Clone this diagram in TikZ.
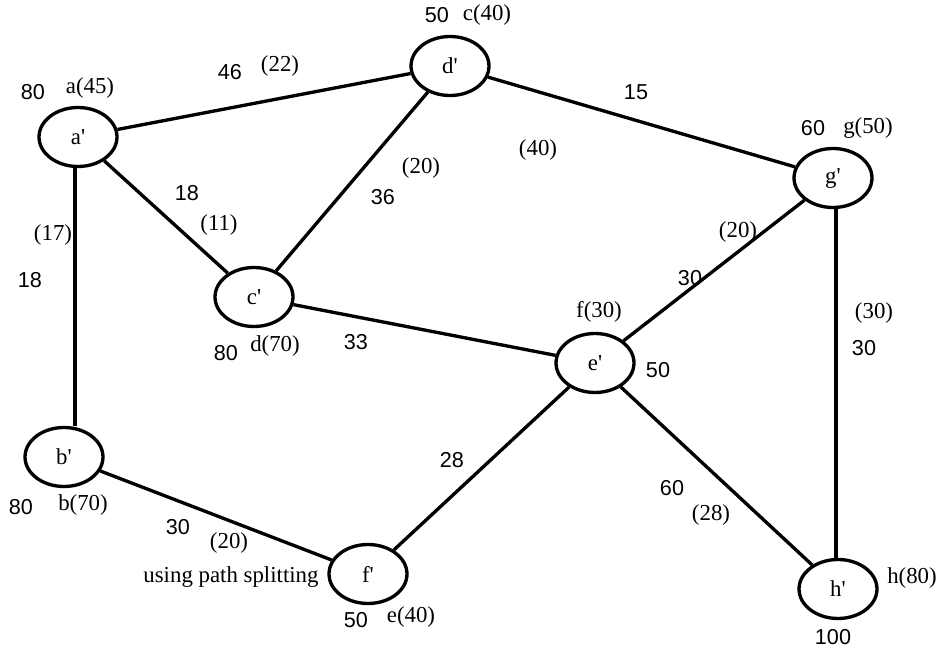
\documentclass[tikz,border=0pt]{standalone}
\usepackage{fontspec}
\setmainfont{Liberation Serif}
\newfontfamily\numfont{Liberation Sans}
\usetikzlibrary{shapes.geometric}
\newcommand{\apos}{\textquotesingle}

\begin{document}
\begin{tikzpicture}[
    x=0.02cm, y=-0.02cm,
    font=\fontsize{13}{15}\selectfont,
    every edge/.style={draw, line width=1.9pt},
    vertex/.style={ellipse, draw, line width=1.9pt, minimum width=1.56cm, minimum height=1.18cm, inner sep=0pt},
    cost/.style={font=\fontsize{12.3}{14}\selectfont\numfont, inner sep=0pt},
    tag/.style={inner sep=0pt}
]
    \useasboundingbox (0,0) rectangle (941,648);

    % the eight vertices
    \node[vertex] (a) at (78,137) {a\apos};
    \node[vertex] (d) at (450,66) {d\apos};
    \node[vertex] (g) at (833,178) {g\apos};
    \node[vertex] (c) at (254,297) {c\apos};
    \node[vertex] (e) at (595,363) {e\apos};
    \node[vertex] (b) at (64,457) {b\apos};
    \node[vertex] (f) at (368,574) {f\apos};
    \node[vertex] (h) at (838,589) {h\apos};

    \path
        (a) edge (d)
        (a) edge (c)
        (a.south -| 75,0) edge (b.north -| 75,0)
        (d) edge (c)
        (d) edge (g)
        (c) edge (e)
        (e) edge (g)
        (e) edge (f)
        (e) edge (h)
        (g.south -| 836,0) edge (h.north -| 836,0)
        (b) edge (f);

    % values beside the vertices
    \node[cost] (va) at (33,92) {80};   \node[tag] (ta) at (90,88) {a(45)};
    \node[cost] (vd) at (437,15) {50};  \node[tag] (td) at (487,15) {c(40)};
    \node[cost] (vg) at (813,128) {60}; \node[tag] (tg) at (868,128) {g(50)};
    \node[cost] (vc) at (226,353) {80}; \node[tag] (tc) at (275,346) {d(70)};
    \node[cost] (ve) at (658,370) {50}; \node[tag] (te) at (599,312) {f(30)};
    \node[cost] (vb) at (21,507) {80};  \node[tag] (tb) at (83,505) {b(70)};
    \node[cost] (vf) at (356,620) {50}; \node[tag] (tf) at (411,617) {e(40)};
    \node[cost] (vh) at (833,637) {100};\node[tag] (th) at (912,578) {h(80)};

    % values on the edges
    \node[cost] (wad) at (230,72) {46};  \node[tag] (sad) at (280,66) {(22)};
    \node[cost] (wdg) at (636,92) {15};  \node[tag] (sdg) at (538,150) {(40)};
    \node[cost] (wac) at (187,193) {18}; \node[tag] (sac) at (219,225) {(11)};
    \node[cost] (wdc) at (383,197) {36}; \node[tag] (sdc) at (421,168) {(20)};
    \node[cost] (wab) at (30,280) {18};  \node[tag] (sab) at (53,235) {(17)};
    \node[cost] (wce) at (356,342) {33};
    \node[cost] (weg) at (690,278) {30}; \node[tag] (seg) at (738,232) {(20)};
    \node[cost] (wgh) at (864,348) {30}; \node[tag] (sgh) at (874,313) {(30)};
    \node[cost] (wef) at (452,460) {28};
    \node[cost] (weh) at (672,488) {60}; \node[tag] (seh) at (711,515) {(28)};
    \node[cost] (wbf) at (178,527) {30}; \node[tag] (sbf) at (229,543) {(20)};
    \node[tag] (note) at (231,577) {using path splitting};
\end{tikzpicture}
\end{document}
